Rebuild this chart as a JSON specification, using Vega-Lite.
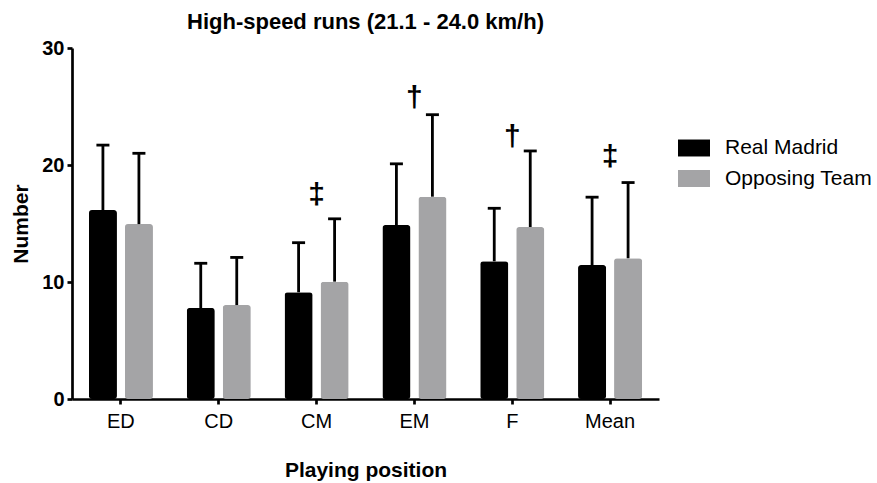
{
  "$schema": "https://vega.github.io/schema/vega-lite/v6.json",
  "width": 587,
  "height": 351,
  "autosize": {"type": "none"},
  "padding": {"left": 72, "top": 48, "right": 218, "bottom": 84},
  "background": "white",
  "config": {"font": "Liberation Sans", "view": {"stroke": null}},
  "title": {"text": "High-speed runs (21.1 - 24.0 km/h)", "fontSize": 22, "fontWeight": "bold", "color": "black", "anchor": "middle", "offset": 4, "font": "Liberation Sans"},
  "datasets": {
    "bars": [
      {"pos": "ED", "team": "Real Madrid", "mean": 16.15, "upper": 21.7},
      {"pos": "ED", "team": "Opposing Team", "mean": 14.95, "upper": 21.0},
      {"pos": "CD", "team": "Real Madrid", "mean": 7.78, "upper": 11.6},
      {"pos": "CD", "team": "Opposing Team", "mean": 8.03, "upper": 12.1},
      {"pos": "CM", "team": "Real Madrid", "mean": 9.12, "upper": 13.36},
      {"pos": "CM", "team": "Opposing Team", "mean": 10.03, "upper": 15.4},
      {"pos": "EM", "team": "Real Madrid", "mean": 14.87, "upper": 20.1},
      {"pos": "EM", "team": "Opposing Team", "mean": 17.29, "upper": 24.3},
      {"pos": "F", "team": "Real Madrid", "mean": 11.77, "upper": 16.3},
      {"pos": "F", "team": "Opposing Team", "mean": 14.7, "upper": 21.2},
      {"pos": "Mean", "team": "Real Madrid", "mean": 11.45, "upper": 17.25},
      {"pos": "Mean", "team": "Opposing Team", "mean": 12.03, "upper": 18.5}
    ],
    "marks": [
      {"pos": "CM", "sym": "‡", "yv": 16.7},
      {"pos": "EM", "sym": "†", "yv": 25.0},
      {"pos": "F", "sym": "†", "yv": 21.6},
      {"pos": "Mean", "sym": "‡", "yv": 19.9}
    ]
  },
  "layer": [
    {
      "data": {"name": "bars"},
      "mark": {"type": "bar", "cornerRadius": 3},
      "encoding": {
        "x": {
          "field": "pos", "type": "nominal",
          "scale": {"domain": ["ED", "CD", "CM", "EM", "F", "Mean"], "paddingInner": 0.345, "paddingOuter": 0.1725},
          "axis": {
            "labelAngle": 0, "labelFontSize": 20, "labelColor": "black", "labelPadding": 7,
            "tickSize": 5, "tickWidth": 2.7, "tickColor": "black",
            "domainWidth": 2.7, "domainColor": "black",
            "title": "Playing position", "titleFontSize": 21, "titleFontWeight": "bold", "titleColor": "black", "titlePadding": 28
          }
        },
        "xOffset": {
          "field": "team", "type": "nominal",
          "scale": {"domain": ["Real Madrid", "Opposing Team"], "paddingInner": 0.22, "paddingOuter": 0}
        },
        "y": {
          "field": "mean", "type": "quantitative",
          "scale": {"domain": [0, 30], "nice": false},
          "axis": {
            "values": [0, 10, 20, 30], "grid": false,
            "labelFontSize": 20, "labelFontWeight": "bold", "labelColor": "black", "labelPadding": 3,
            "tickSize": 5, "tickWidth": 2.7, "tickColor": "black",
            "domainWidth": 2.7, "domainColor": "black",
            "title": "Number", "titleFontSize": 21, "titleFontWeight": "bold", "titleColor": "black", "titlePadding": 10
          }
        },
        "color": {
          "field": "team", "type": "nominal",
          "scale": {"domain": ["Real Madrid", "Opposing Team"], "range": ["#000000", "#a4a4a6"]},
          "legend": {
            "orient": "none", "legendX": 606, "legendY": 84, "title": null,
            "labelFontSize": 21, "labelColor": "black", "labelOffset": 15,
            "symbolType": "M-1,-0.53H1V0.53H-1Z", "symbolSize": 1024, "symbolStrokeWidth": 0,
            "symbolOpacity": 1, "rowPadding": 4.5
          }
        }
      }
    },
    {
      "data": {"name": "bars"},
      "mark": {"type": "rule", "color": "black", "strokeWidth": 2.8},
      "encoding": {
        "x": {"field": "pos", "type": "nominal"},
        "xOffset": {"field": "team", "type": "nominal"},
        "y": {"field": "mean", "type": "quantitative"},
        "y2": {"field": "upper"}
      }
    },
    {
      "data": {"name": "bars"},
      "mark": {"type": "tick", "color": "black", "size": 13, "thickness": 2.8, "opacity": 1},
      "encoding": {
        "x": {"field": "pos", "type": "nominal"},
        "xOffset": {"field": "team", "type": "nominal"},
        "y": {"field": "upper", "type": "quantitative"}
      }
    },
    {
      "data": {"name": "marks"},
      "mark": {"type": "text", "fontSize": 30, "fontWeight": "bold", "color": "black", "baseline": "alphabetic", "align": "center"},
      "encoding": {
        "x": {"field": "pos", "type": "nominal"},
        "y": {"field": "yv", "type": "quantitative"},
        "text": {"field": "sym"}
      }
    }
  ]
}
